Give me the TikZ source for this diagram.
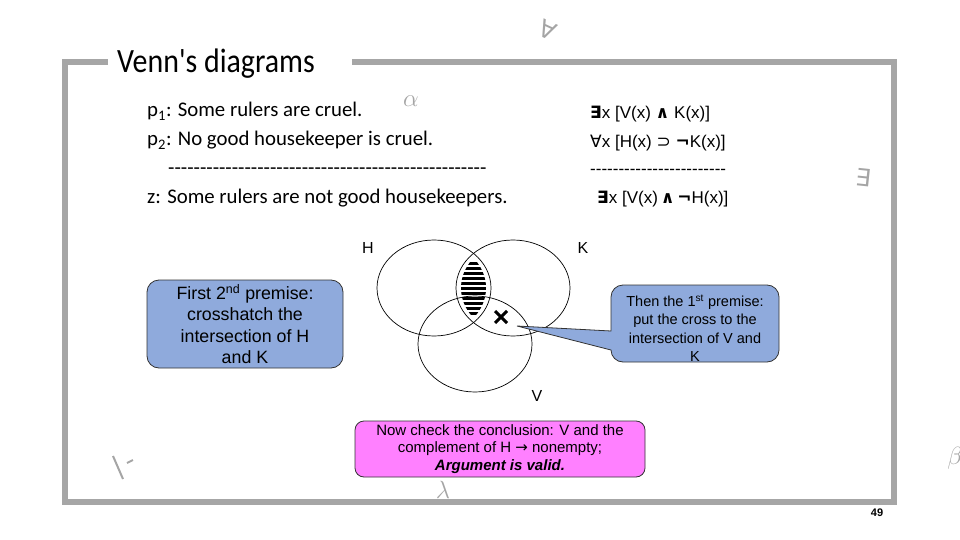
\documentclass[tikz,border=0pt]{standalone}
\usepackage{fontspec}
\newfontfamily\arial{Liberation Sans}
\newfontfamily\calib{Carlito}
\newfontfamily\djv{DejaVu Sans}
\definecolor{framegray}{RGB}{166,166,166}
\definecolor{decogray}{RGB}{165,165,165}
\definecolor{callblue}{RGB}{143,170,220}
\definecolor{callpink}{RGB}{255,128,255}
\begin{document}
\begin{tikzpicture}[x=1pt,y=-1pt,
  premise/.style={anchor=base west, inner sep=0pt, font=\calib\fontsize{20.8}{24}\selectfont},
  formula/.style={anchor=base west, inner sep=0pt, font=\arial\fontsize{17}{20}\selectfont},
  deco/.style={text=decogray, inner sep=0pt},
  vennline/.style={draw=black, line width=0.7pt},
  setlabel/.style={inner sep=0pt, font=\arial\fontsize{16}{18}\selectfont},
  bluebox/.style={draw=black!80, line width=0.8pt, fill=callblue, rounded corners=12pt},
  pinkbox/.style={draw=black!80, line width=0.8pt, fill=callpink, rounded corners=9pt},
  frameline/.style={draw=framegray, line width=6pt}]
\useasboundingbox (0,0) rectangle (960,540);
% frame
\draw[frameline] (108,62) -- (65,62) -- (65,502) -- (894,502) -- (894,62) -- (352,62);
\node[anchor=base west, inner sep=0pt, font=\calib\fontsize{34}{38}\selectfont] (title) at (117,73) {\scalebox{0.88}[1]{Venn's diagrams}};
% decorations
\node[deco, rotate=-25, font=\djv\fontsize{24}{26}\selectfont] (dforall) at (548,30) {∀};
\node[deco, font=\fontsize{28}{30}\selectfont] (dalpha) at (411,101) {$\alpha$};
\node[deco, rotate=-6, font=\djv\fontsize{24}{26}\selectfont] (dexists) at (863,178) {∃};
\node[deco, font=\fontsize{30}{32}\selectfont] (dbeta) at (955,458) {$\beta$};
\draw[decogray, line width=2pt] (113,456) -- (123,479);
\draw[decogray, line width=2pt] (127,463) -- (133,460);
% premises
\node[premise] (p1) at (147,117) {p\textsubscript{1}: Some rulers are cruel.};
\node[premise] (p2) at (147,146) {p\textsubscript{2}: No good housekeeper is cruel.};
\node[premise] (d1) at (168,175) {--------------------------------------------------};
\node[premise] (z) at (147,203) {z: Some rulers are not good housekeepers.};
% formulas
\node[formula] (f1) at (590,119) {{\djv\bfseries ∃}x [V(x) {\djv\bfseries ∧} K(x)]};
\node[formula] (f2) at (590,148) {{\djv ∀}x [H(x) {\djv ⊃} {\djv\bfseries ¬}K(x)]};
\node[formula] (f3) at (590,175) {------------------------};
\node[formula] (f4) at (597,204) {{\djv\bfseries ∃}x [V(x)\,{\djv\bfseries ∧}\,{\djv\bfseries ¬}H(x)]};
% Venn
\draw[vennline] (434,288) ellipse [x radius=57pt, y radius=48pt];
\draw[vennline] (513,288) ellipse [x radius=57pt, y radius=48pt];
\draw[vennline] (475,344) ellipse [x radius=57pt, y radius=48pt];
\begin{scope}
\clip (434,288) ellipse [x radius=52pt, y radius=46pt];
\clip (513,288) ellipse [x radius=52pt, y radius=46pt];
\foreach \yy in {263,268,...,313} \draw[line width=3pt] (440,\yy) -- (510,\yy);
\end{scope}
\node[setlabel] (H) at (368,248) {H};
\node[setlabel] (K) at (583,248) {K};
\node[setlabel] (V) at (537,396) {V};
\draw[line width=3pt] (495,311) -- (507,323) (495,323) -- (507,311);
\coordinate (tip) at (517,326);
% left callout
\node[bluebox, minimum width=196pt, minimum height=88pt, align=center,
      font=\arial\fontsize{17.8}{21.4}\selectfont] (cL) at (245,324)
  {First 2\textsuperscript{nd} premise:\\crosshatch the\\intersection of H\\and K};
% right callout
\coordinate (rb1) at (611,331);
\coordinate (rb2) at (611,350);
\draw[draw=black!80, line width=0.8pt, fill=callblue] (tip) -- (rb1) [rounded corners=12pt] -- (611,285) -- (779,285) -- (779,362) -- (611,362) [sharp corners] -- (rb2) -- cycle;
\node[align=center, inner sep=0pt, font=\arial\fontsize{14.5}{18.3}\selectfont] (cR) at (695,328)
  {Then the 1\textsuperscript{st} premise:\\put the cross to the\\intersection of V and\\K};
% pink callout
\node[pinkbox, minimum width=290pt, minimum height=56pt, align=center,
      font=\arial\fontsize{15}{17.5}\selectfont] (cP) at (500,449)
  {Now check the conclusion: V and the\\complement of H {\djv →} nonempty;\\\textbf{\textit{Argument is valid.}}};
\node[deco, font=\fontsize{26}{28}\selectfont] (dlambda) at (443,490) {$\lambda$};
% page number
\node[inner sep=0pt, font=\arial\bfseries\fontsize{11}{13}\selectfont] (num) at (877,513) {49};
\end{tikzpicture}
\end{document}
